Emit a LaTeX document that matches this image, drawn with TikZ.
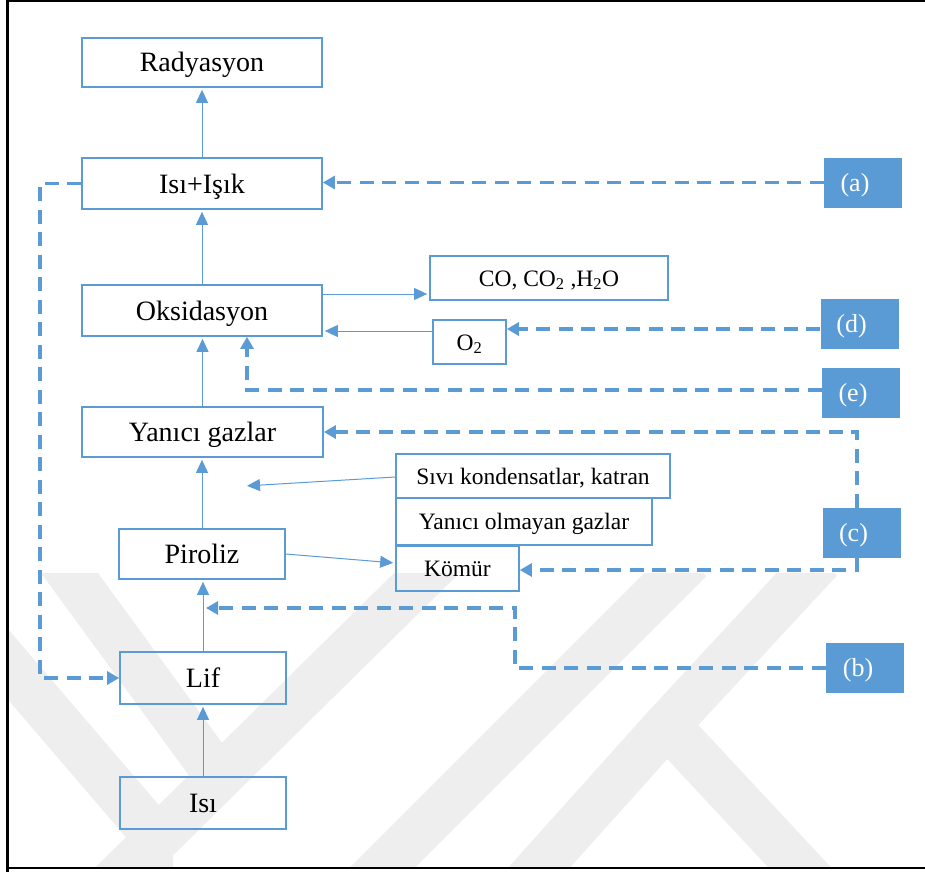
\documentclass[tikz,border=0pt]{standalone}
\usepackage{fontspec}
\setmainfont{Liberation Serif}
\usetikzlibrary{arrows.meta,calc}

\definecolor{bx}{HTML}{5B9BD5}
\definecolor{wm}{HTML}{EEEEEE}

\begin{document}
\begin{tikzpicture}[x=1pt,y=-1pt,
  box/.style={draw=bx, line width=1.7pt, inner sep=0pt, text height=19pt, text depth=0pt,
              font=\fontsize{28}{32}\selectfont},
  sbox/.style={box, text height=16pt, font=\fontsize{23.5}{28}\selectfont},
  tag/.style={fill=bx, draw=none, inner sep=0pt, minimum width=78pt, minimum height=50pt},
  tagtext/.style={text=white, inner sep=0pt, text height=17.5pt, text depth=0pt,
                  font=\fontsize{26}{30}\selectfont},
  sarrow/.style={draw=bx, line width=1pt, -{Triangle[length=13pt,width=12pt]}, shorten >=2pt},
  darrow/.style={draw=bx, line width=3.2pt, dash pattern=on 14pt off 8.5pt, -{Triangle[length=12pt,width=13pt]}},
  wmband/.style={draw=wm, line width=46pt, line join=miter}
]
\useasboundingbox (0,0) rectangle (925,872);

% background emblem
\begin{scope}
  \clip (8,573) rectangle (925,868);
  \draw[wmband] (60,560) -- (228,790);
  \draw[wmband] (-30,620) -- (150,830) -- (150,900);
  \draw[wmband] (95,900) -- (440,560);
  \draw[wmband] (350,900) -- (690,560);
  \draw[wmband] (510,900) -- (667,725) -- (820,560);
  \draw[wmband] (667,725) -- (830,900);
\end{scope}

% frame
\draw[line width=2.5pt] (7.5,872) -- (7.5,1) -- (930,1);
\draw[line width=2.5pt] (6,868) -- (930,868);

% process boxes
\node[box, minimum width=240pt, minimum height=49pt] (rad) at (202,62.5) {Radyasyon};
\node[box, minimum width=240pt, minimum height=51pt] (isik) at (202,183.5) {Isı+Işık};
\node[box, minimum width=240pt, minimum height=51pt] (oks) at (202,310.5) {Oksidasyon};
\node[sbox, minimum width=238pt, minimum height=44pt] (co) at (549,278) {CO, CO\textsubscript{2} ,H\textsubscript{2}O};
\node[sbox, minimum width=73pt, minimum height=44pt] (o2) at (469.5,342) {O\textsubscript{2}};
\node[box, minimum width=241pt, minimum height=50pt] (yan) at (202.5,432) {Yanıcı gazlar};
\node[sbox, minimum width=274pt, minimum height=44pt] (siv) at (533,476) {Sıvı kondensatlar, katran};
\node[sbox, minimum width=256pt, minimum height=47pt] (yom) at (524,521.5) {Yanıcı olmayan gazlar};
\node[sbox, minimum width=123pt, minimum height=45pt] (kom) at (457.5,568.5) {Kömür};
\node[box, minimum width=166pt, minimum height=50pt] (pir) at (202,554) {Piroliz};
\node[box, minimum width=166pt, minimum height=52pt] (lif) at (203,678) {Lif};
\node[box, minimum width=166pt, minimum height=52pt] (isi) at (203,803) {Isı};

% letter tags
\node[tag] (la) at (863,182.5) {};
\node[tag] (ld) at (859.5,324) {};
\node[tag] (le) at (861,393) {};
\node[tag] (lc) at (861.5,533) {};
\node[tag] (lb) at (865,668) {};
\node[tagtext] (la-t) at ($(la.center)+(-8,0)$) {(a)};
\node[tagtext] (ld-t) at ($(ld.center)+(-8,0)$) {(d)};
\node[tagtext] (le-t) at ($(le.center)+(-8,0)$) {(e)};
\node[tagtext] (lc-t) at ($(lc.center)+(-8,0)$) {(c)};
\node[tagtext] (lb-t) at ($(lb.center)+(-7,0)$) {(b)};

% bend points of the dashed feedback lines
\coordinate (lfold) at (40,400);
\coordinate (ebend) at (247,390);
\coordinate (ctop) at (857,432);
\coordinate (cbot) at (857,570);
\coordinate (bbend) at (515,668);
\coordinate (bup) at (515,608);
\coordinate (bend) at (206,608);
\coordinate (sivend) at (245,486);

% main chain
\draw[sarrow] (isi.north) -- (isi.north |- lif.south);
\draw[sarrow] (lif.north) -- (lif.north |- pir.south);
\draw[sarrow] (pir.north) -- (pir.north |- yan.south);
\draw[sarrow] (yan.north) -- (yan.north |- oks.south);
\draw[sarrow] (oks.north) -- (oks.north |- isik.south);
\draw[sarrow] (isik.north) -- (isik.north |- rad.south);

% side branches
\draw[sarrow] (oks.east |- 0,294) -- (co.west |- 0,294);
\draw[sarrow] (o2.west |- 0,331) -- (oks.east |- 0,331);
\draw[sarrow] (siv.west |- 0,477) -- (sivend);
\draw[sarrow] (pir.east) -- (kom.west |- 0,563);

% dashed feedback
\draw[darrow] (la.west) -- (isik.east |- la.west);
\draw[darrow] (isik.west) -| (lfold) |- (lif.west);
\draw[darrow] (ld.west |- 0,329) -- (o2.east |- 0,329);
\draw[darrow] (le.west |- ebend) -- (ebend) -- (oks.south -| ebend);
\draw[darrow] (ctop |- lc.north) -- (ctop) -- (yan.east |- ctop);
\draw[darrow] (cbot |- lc.south) -- (cbot) -- (kom.east |- cbot);
\draw[darrow] (lb.west) -- (bbend) -- (bup) -- (bend);
\end{tikzpicture}
\end{document}
